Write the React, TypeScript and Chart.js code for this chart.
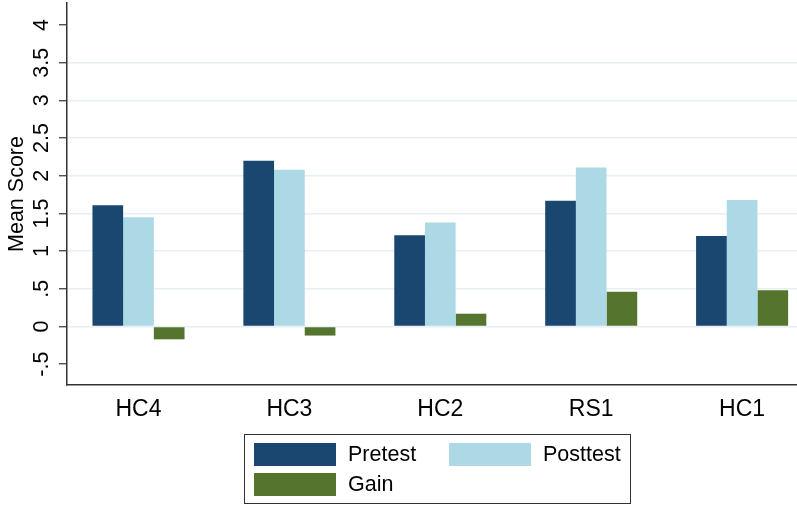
import React, { useEffect, useRef } from 'react';
import { Chart, registerables } from 'chart.js';

Chart.register(...registerables);

const categories = ['HC4', 'HC3', 'HC2', 'RS1', 'HC1'];
const pretest = [1.61, 2.2, 1.21, 1.67, 1.2];
const posttest = [1.45, 2.08, 1.38, 2.11, 1.68];
const gain = [-0.17, -0.12, 0.17, 0.46, 0.48];
const yTickValues = [-0.5, 0, 0.5, 1, 1.5, 2, 2.5, 3, 3.5, 4];
const yTickLabels = ['-.5', '0', '.5', '1', '1.5', '2', '2.5', '3', '3.5', '4'];
const seriesNames = ['Pretest', 'Posttest', 'Gain'];
const seriesColors = ['#1a476f', '#add8e6', '#55752f'];

const FONT = "'Liberation Sans', Arial, Helvetica, sans-serif";

const yLabelPlugin = {
  id: 'rotatedYLabels',
  afterDraw(chart: any) {
    const { ctx } = chart;
    const scale = chart.scales.y;
    ctx.save();
    ctx.fillStyle = '#000';
    ctx.font = `21.5px ${FONT}`;
    ctx.textAlign = 'center';
    ctx.textBaseline = 'middle';
    yTickValues.forEach((v, i) => {
      const py = scale.getPixelForValue(v);
      ctx.save();
      ctx.translate(42.5, py);
      ctx.rotate(-Math.PI / 2);
      ctx.fillText(yTickLabels[i], 0, 0);
      ctx.restore();
    });
    ctx.restore();
  },
};

const legendPlugin = {
  id: 'boxLegend',
  afterDraw(chart: any) {
    const { ctx } = chart;
    ctx.save();
    ctx.strokeStyle = '#333';
    ctx.lineWidth = 1;
    ctx.strokeRect(244.5, 434.5, 386, 69);
    const cols = [254, 449];
    const rows = [443, 473];
    ctx.font = `21.5px ${FONT}`;
    ctx.textAlign = 'left';
    ctx.textBaseline = 'middle';
    chart.data.datasets.forEach((ds: any, i: number) => {
      const x = cols[i % 2];
      const y = rows[Math.floor(i / 2)];
      ctx.fillStyle = ds.backgroundColor;
      ctx.fillRect(x, y, 82, 23);
      ctx.fillStyle = '#000';
      ctx.fillText(ds.label, x + 94, y + 12);
    });
    ctx.restore();
  },
};

export default function App() {
  const ref = useRef<HTMLCanvasElement>(null);

  useEffect(() => {
    if (!ref.current) return;
    const series = [pretest, posttest, gain];
    const chart = new Chart(ref.current, {
      type: 'bar',
      data: {
        datasets: series.map((s, k) => ({
          label: seriesNames[k],
          data: s.map((v, i) => ({ x: i, y: v })),
          backgroundColor: seriesColors[k],
          borderWidth: 0,
          barPercentage: 1,
          categoryPercentage: 0.61,
        })),
      },
      options: {
        animation: false,
        responsive: true,
        maintainAspectRatio: false,
        layout: { padding: { top: 3, left: 0, right: 0, bottom: 0 } },
        plugins: {
          legend: { display: false },
          tooltip: { enabled: false },
        },
        scales: {
          x: {
            type: 'linear',
            offset: false,
            min: -0.4738,
            max: 4.3638,
            afterBuildTicks: (s: any) => {
              s.ticks = categories.map((_, i) => ({ value: i }));
            },
            afterFit: (s: any) => {
              s.height = 120;
            },
            ticks: {
              autoSkip: false,
              maxRotation: 0,
              minRotation: 0,
              padding: 11,
              color: '#000',
              font: { size: 23, family: FONT },
              callback: (v: any) => categories[Math.round(Number(v))] ?? '',
            },
            grid: { display: false, drawTicks: false },
            border: { display: true, color: '#333', width: 1.5 },
          },
          y: {
            type: 'linear',
            min: -0.776,
            max: 4.292,
            afterBuildTicks: (s: any) => {
              s.ticks = yTickValues.map((v) => ({ value: v }));
            },
            afterFit: (s: any) => {
              s.width = 67;
            },
            ticks: { display: false },
            grid: {
              color: (c: any) => {
                const v = c.tick ? c.tick.value : null;
                return v === yTickValues[0] || v === yTickValues[yTickValues.length - 1]
                  ? 'rgba(0,0,0,0)'
                  : '#e8eff2';
              },
              lineWidth: 1.5,
              tickColor: '#333',
              tickLength: 8,
              tickWidth: 1.2,
            },
            border: { display: true, color: '#333', width: 1.5 },
            title: {
              display: true,
              text: 'Mean Score',
              color: '#000',
              font: { size: 21.5, family: FONT },
              padding: { top: 4, bottom: 0 },
            },
          },
        },
      },
      plugins: [yLabelPlugin, legendPlugin],
    } as any);
    return () => chart.destroy();
  }, []);

  return (
    <div style={{ position: 'fixed', left: 0, top: 0, width: 797, height: 505, background: '#fff' }}>
      <canvas ref={ref} />
    </div>
  );
}
